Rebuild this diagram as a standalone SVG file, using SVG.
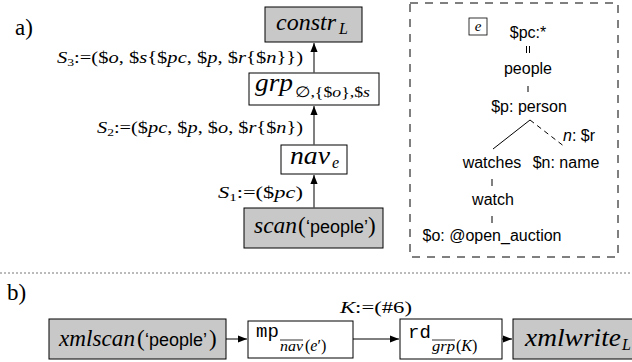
<svg xmlns="http://www.w3.org/2000/svg" width="632" height="362" viewBox="0 0 632 362">
<defs>
<style>
.bg{fill:#fff}
.box{fill:#fff;stroke:#000;stroke-width:1}
.gbox{fill:#c8c8c8;stroke:#000;stroke-width:1}
.m{font-family:"Liberation Serif","DejaVu Serif",serif;font-style:italic;fill:#000}
.r{font-family:"Liberation Serif","DejaVu Serif",serif;font-style:normal;fill:#000}
.s{font-family:"Liberation Sans",Arial,sans-serif;font-style:normal;fill:#000}
.tt{font-family:"Liberation Mono","DejaVu Sans Mono",monospace;font-style:normal;fill:#000}
.lbl{font-family:"Liberation Serif","DejaVu Serif",serif;font-size:16.5px;fill:#000}
.i{font-style:italic}
.tree{font-family:"Liberation Sans",Arial,sans-serif;font-size:16px;fill:#000;text-anchor:middle}
.edge{stroke:#555;stroke-width:1.5;fill:none}
.bedge{stroke:#000;stroke-width:1;fill:none}
.tl{stroke:#000;stroke-width:1}
</style>
<marker id="ah" viewBox="0 0 10 10" refX="10" refY="5" markerWidth="9" markerHeight="9" markerUnits="userSpaceOnUse" orient="auto">
<path d="M0,1 L10,5 L0,9 z" fill="#000"/>
</marker>
</defs>
<rect class="bg" x="0" y="0" width="632" height="362"/>

<text x="15" y="35" class="r" font-size="23">a)</text>
<text x="7" y="300" class="r" font-size="23">b)</text>
<line x1="0" y1="273" x2="632" y2="273" stroke="#777" stroke-width="1" stroke-dasharray="2,2"/>

<g id="constr">
<rect class="gbox" x="265" y="7" width="97" height="35"/>
<text x="276" y="30" class="m" font-size="24" textLength="60" lengthAdjust="spacingAndGlyphs">constr</text>
<text x="339" y="34" class="m" font-size="16">L</text>
</g>
<g id="grp">
<rect class="box" x="249" y="73" width="130" height="32"/>
<text x="255" y="91" class="m" font-size="25" textLength="38" lengthAdjust="spacingAndGlyphs">grp</text>
<text x="295" y="97" class="r" font-size="15" textLength="75" lengthAdjust="spacingAndGlyphs">∅,{$<tspan class="i">o</tspan>},$<tspan class="i">s</tspan></text>
</g>
<g id="nav">
<rect class="box" x="281" y="145" width="66" height="29"/>
<text x="290" y="164" class="m" font-size="25" textLength="40" lengthAdjust="spacingAndGlyphs">nav</text>
<text x="332" y="168" class="m" font-size="16">e</text>
</g>
<g id="scan">
<rect class="gbox" x="244" y="208" width="139" height="40"/>
<text x="254" y="233" class="m" font-size="24" textLength="43" lengthAdjust="spacingAndGlyphs">scan</text>
<text x="298" y="233" class="r" font-size="23">(</text>
<text x="306" y="233" class="s" font-size="17.5" textLength="62" lengthAdjust="spacingAndGlyphs">‘people’</text>
<text x="368" y="233" class="r" font-size="23">)</text>
</g>

<g id="labels">
<text class="lbl" x="57" y="63" textLength="246" lengthAdjust="spacingAndGlyphs"><tspan class="i">S</tspan><tspan font-size="11" dy="3">3</tspan><tspan dy="-3">:=($</tspan><tspan class="i">o</tspan>, $<tspan class="i">s</tspan>{$<tspan class="i">pc</tspan>, $<tspan class="i">p</tspan>, $<tspan class="i">r</tspan>{$<tspan class="i">n</tspan>}})</text>
<text class="lbl" x="97" y="133" textLength="206" lengthAdjust="spacingAndGlyphs"><tspan class="i">S</tspan><tspan font-size="11" dy="3">2</tspan><tspan dy="-3">:=($</tspan><tspan class="i">pc</tspan>, $<tspan class="i">p</tspan>, $<tspan class="i">o</tspan>, $<tspan class="i">r</tspan>{$<tspan class="i">n</tspan>})</text>
<text class="lbl" x="218" y="198" textLength="85" lengthAdjust="spacingAndGlyphs"><tspan class="i">S</tspan><tspan font-size="11" dy="3">1</tspan><tspan dy="-3">:=($</tspan><tspan class="i">pc</tspan>)</text>
</g>

<g id="pattern">
<rect x="410" y="3" width="208" height="254" fill="none" stroke="#000" stroke-width="1" stroke-dasharray="8,7"/>
<rect x="469" y="18" width="18" height="17" fill="#fff" stroke="#000" stroke-width="0.8"/>
<text x="478" y="31" class="m" font-size="15" text-anchor="middle">e</text>
<text class="tree" x="528" y="38">$pc:*</text>
<line class="tl" x1="526.5" y1="46" x2="526.5" y2="53"/>
<line class="tl" x1="529.5" y1="46" x2="529.5" y2="53"/>
<text class="tree" x="528" y="74">people</text>
<line class="tl" x1="528" y1="86" x2="528" y2="92"/>
<text class="tree" x="529" y="112">$p: person</text>
<line class="tl" x1="530" y1="120" x2="493" y2="149"/>
<line class="tl" x1="530" y1="120" x2="565" y2="147" stroke-dasharray="5,4"/>
<text x="563" y="141" class="s" font-size="16"><tspan font-style="italic">n</tspan>: $r</text>
<text class="tree" x="492" y="168">watches</text>
<text class="tree" x="566" y="168">$n: name</text>
<line class="tl" x1="492" y1="179" x2="492" y2="186"/>
<text class="tree" x="493" y="205">watch</text>
<line class="tl" x1="492" y1="216" x2="492" y2="223"/>
<text class="tree" x="492" y="241">$o: @open_auction</text>
</g>

<g id="xmlscan">
<rect class="gbox" x="49" y="319" width="177" height="40"/>
<text x="59" y="346" class="m" font-size="24" textLength="76" lengthAdjust="spacingAndGlyphs">xmlscan</text>
<text x="137" y="346" class="r" font-size="23">(</text>
<text x="145" y="346" class="s" font-size="17.5" textLength="62" lengthAdjust="spacingAndGlyphs">‘people’</text>
<text x="209" y="346" class="r" font-size="23">)</text>
</g>
<g id="mp">
<rect class="box" x="248" y="321" width="105" height="37"/>
<text x="256" y="337" class="tt" font-size="19">mp</text>
<text x="280" y="351" class="m" font-size="15" textLength="23" lengthAdjust="spacingAndGlyphs">nav</text>
<text x="305" y="351" class="r" font-size="16">(<tspan class="i">e</tspan>′)</text>
<line x1="280" y1="340" x2="303" y2="340" stroke="#000" stroke-width="0.8"/>
</g>
<g id="rd">
<rect class="box" x="400" y="319" width="102" height="40"/>
<text x="408" y="338" class="tt" font-size="19">rd</text>
<text x="432" y="351" class="m" font-size="15" textLength="23" lengthAdjust="spacingAndGlyphs">grp</text>
<text x="456" y="351" class="r" font-size="16">(<tspan class="i">K</tspan>)</text>
<line x1="432" y1="340" x2="455" y2="340" stroke="#000" stroke-width="0.8"/>
</g>
<g id="xmlwrite">
<rect class="gbox" x="513" y="319" width="130" height="40"/>
<text x="525" y="346" class="m" font-size="25" textLength="96" lengthAdjust="spacingAndGlyphs">xmlwrite</text>
<text x="622" y="350" class="m" font-size="16">L</text>
</g>
<text x="340" y="313" class="lbl" textLength="72" lengthAdjust="spacingAndGlyphs"><tspan class="i">K</tspan>:=(#6)</text>

<g id="connectors">
<line class="edge" x1="314" y1="145" x2="314" y2="106" marker-end="url(#ah)"/>
<line class="edge" x1="314" y1="73" x2="314" y2="43" marker-end="url(#ah)"/>
<line class="edge" x1="314" y1="208" x2="314" y2="175" marker-end="url(#ah)"/>
<line class="bedge" x1="226" y1="339" x2="247" y2="339" marker-end="url(#ah)"/>
<line class="bedge" x1="353" y1="339" x2="399" y2="339" marker-end="url(#ah)"/>
<line class="bedge" x1="502" y1="339" x2="512" y2="339" marker-end="url(#ah)"/>
</g>
</svg>
